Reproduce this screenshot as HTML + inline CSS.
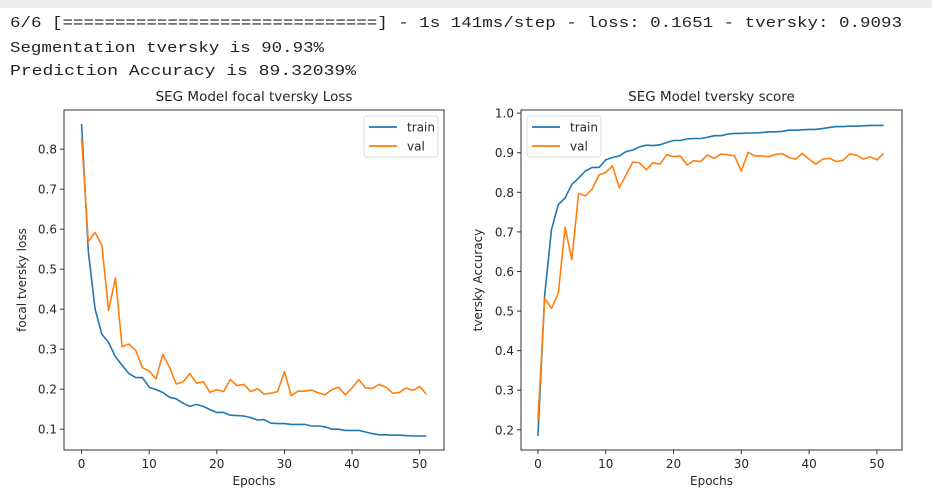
<!DOCTYPE html>
<html><head><meta charset="utf-8">
<style>
html,body{margin:0;padding:0;background:#fff;}
svg{display:block;}
.mono{font-family:"Liberation Mono","DejaVu Sans Mono",monospace;font-size:15px;fill:#222;}
.tick{font-family:"DejaVu Sans","Liberation Sans",sans-serif;font-size:12px;fill:#262626;}
.ttl{font-family:"DejaVu Sans","Liberation Sans",sans-serif;font-size:13.5px;fill:#262626;}
.lab{font-family:"DejaVu Sans","Liberation Sans",sans-serif;font-size:12px;fill:#262626;}
</style></head>
<body>
<svg id="root" width="932" height="493" viewBox="0 0 932 493" xmlns="http://www.w3.org/2000/svg">
<rect x="0" y="0" width="932" height="8" fill="#eeeeee"/>
<text class="mono" x="10" y="27" textLength="892" lengthAdjust="spacingAndGlyphs">6/6 [==============================] - 1s 141ms/step - loss: 0.1651 - tversky: 0.9093</text>
<text class="mono" x="10" y="52" textLength="314" lengthAdjust="spacingAndGlyphs">Segmentation tversky is 90.93%</text>
<text class="mono" x="10" y="75" textLength="346" lengthAdjust="spacingAndGlyphs">Prediction Accuracy is 89.32039%</text>
<g id="c1"></g>
<g id="c2"></g>
</svg>
<script>
const epochs = Array.from({length:52},(_, i)=>i);
const lossTrain = [0.863,0.545,0.40,0.337,0.317,0.281,0.26,0.239,0.229,0.229,0.205,0.199,0.192,0.18,0.176,0.165,0.157,0.162,0.157,0.149,0.142,0.142,0.135,0.134,0.133,0.129,0.123,0.124,0.115,0.114,0.114,0.112,0.112,0.112,0.108,0.108,0.106,0.1,0.1,0.097,0.097,0.097,0.093,0.089,0.086,0.086,0.085,0.085,0.084,0.083,0.083,0.083];
const lossVal = [0.829,0.569,0.592,0.559,0.397,0.478,0.306,0.313,0.297,0.254,0.245,0.226,0.287,0.255,0.213,0.218,0.239,0.215,0.219,0.192,0.199,0.194,0.224,0.209,0.212,0.194,0.201,0.188,0.19,0.194,0.244,0.184,0.195,0.195,0.198,0.191,0.186,0.199,0.205,0.186,0.203,0.224,0.203,0.202,0.212,0.205,0.19,0.192,0.203,0.197,0.207,0.187];
const scoreTrain = [0.185,0.541,0.706,0.769,0.786,0.82,0.836,0.854,0.863,0.863,0.882,0.888,0.892,0.903,0.907,0.915,0.919,0.918,0.92,0.926,0.931,0.931,0.935,0.936,0.936,0.939,0.943,0.943,0.947,0.949,0.949,0.95,0.95,0.951,0.953,0.953,0.954,0.957,0.957,0.958,0.959,0.959,0.961,0.964,0.966,0.966,0.967,0.967,0.968,0.969,0.969,0.969];
const scoreVal = [0.223,0.532,0.507,0.545,0.712,0.63,0.797,0.791,0.808,0.844,0.85,0.867,0.812,0.844,0.877,0.874,0.857,0.875,0.871,0.895,0.89,0.892,0.869,0.88,0.878,0.894,0.886,0.897,0.895,0.892,0.854,0.901,0.892,0.892,0.89,0.895,0.898,0.888,0.884,0.898,0.884,0.871,0.884,0.886,0.878,0.881,0.897,0.894,0.884,0.89,0.882,0.898];
const xTicks = [0,10,20,30,40,50];
const lossYTicks = [0.1,0.2,0.3,0.4,0.5,0.6,0.7,0.8];
const scoreYTicks = [0.2,0.3,0.4,0.5,0.6,0.7,0.8,0.9,1.0];

const NS='http://www.w3.org/2000/svg';
function mk(parent,tag,attrs,txt){const e=document.createElementNS(NS,tag);for(const k in attrs)e.setAttribute(k,attrs[k]);if(txt!==undefined)e.textContent=txt;parent.appendChild(e);return e;}

function drawChart(g,cfg){
  const {L,R,T,B,xmin,xmax,ymin,ymax}=cfg;
  const sx=v=>L+(v-xmin)/(xmax-xmin)*(R-L);
  const sy=v=>B-(v-ymin)/(ymax-ymin)*(B-T);
  const t=mk(g,'text',{x:(L+R)/2,y:T-9,'text-anchor':'middle',class:'ttl'},cfg.title);
  
  
  xTicks.forEach(v=>{
    const tl=mk(g,'line',{x1:sx(v),x2:sx(v),y1:B,y2:B+4,stroke:'#333','stroke-width':1});
    
    
    const tx=mk(g,'text',{x:sx(v),y:B+18,'text-anchor':'middle',class:'tick'},String(v));
    
    
  });
  cfg.yTicks.forEach(v=>{
    const tl=mk(g,'line',{x1:L-4,x2:L,y1:sy(v),y2:sy(v),stroke:'#333','stroke-width':1});
    
    
    const tx=mk(g,'text',{x:L-7,y:sy(v)+4.5,'text-anchor':'end',class:'tick'},v.toFixed(1));
    
    
  });
  const xl=mk(g,'text',{x:(L+R)/2,y:B+35,'text-anchor':'middle',class:'lab'},'Epochs');
  
  
  const yx=cfg.ylabX, yy=(T+B)/2;
  const yl=mk(g,'text',{x:yx,y:yy,'text-anchor':'middle',class:'lab',transform:`rotate(-90 ${yx} ${yy})`},cfg.ylabel);
  
  
  [[cfg.train,'#1f77b4','train-line'],[cfg.val,'#ff7f0e','val-line']].forEach(([d,c,n])=>{
    const p=mk(g,'polyline',{points:d.map((v,i)=>sx(epochs[i]).toFixed(1)+','+sy(v).toFixed(1)).join(' '),fill:'none',stroke:c,'stroke-width':1.6,'stroke-linejoin':'round'});
    
    
  });
  const fr=mk(g,'rect',{x:L,y:T,width:R-L,height:B-T,fill:'none',stroke:'#333','stroke-width':1});
  
  
  const lg=mk(g,'g',{});
  
  
  const lx=cfg.legX, ly=T+6;
  mk(lg,'rect',{x:lx,y:ly,width:74,height:41,rx:3,fill:'#fff',stroke:'#ddd','stroke-width':1});
  [['train','#1f77b4'],['val','#ff7f0e']].forEach(([n,c],i)=>{
    const yy2=ly+11+i*19;
    const e=mk(lg,'g',{});
    
    
    mk(e,'line',{x1:lx+5,x2:lx+33,y1:yy2,y2:yy2,stroke:c,'stroke-width':1.8});
    mk(e,'text',{x:lx+43,y:yy2+4.5,class:'tick'},n);
  });
}
drawChart(document.getElementById('c1'),{L:64,R:444,T:110,B:450,xmin:-2.6,xmax:53.6,ymin:0.048,ymax:0.898,yTicks:lossYTicks,train:lossTrain,val:lossVal,title:'SEG Model focal tversky Loss',ylabel:'focal tversky loss',ylabX:26,legX:364});
drawChart(document.getElementById('c2'),{L:521,R:902,T:110,B:450,xmin:-2.5,xmax:53.7,ymin:0.149,ymax:1.008,yTicks:scoreYTicks,train:scoreTrain,val:scoreVal,title:'SEG Model tversky score',ylabel:'tversky Accuracy',ylabX:482,legX:527});
</script>
</body></html>
